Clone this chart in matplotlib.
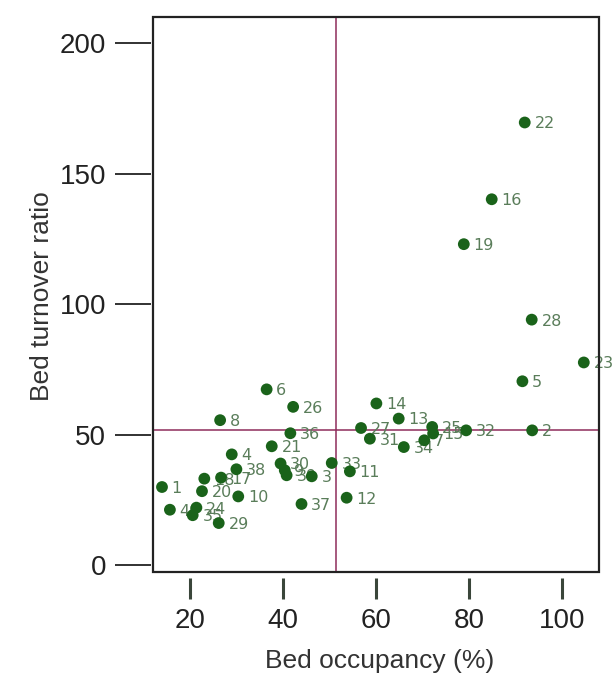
import matplotlib
matplotlib.use("Agg")
import matplotlib.pyplot as plt
from matplotlib.patches import Rectangle

# hospital id, bed occupancy (%), bed turnover ratio
ids = [1, 2, 3, 4, 5, 6, 7, 8, 9, 10,
       11, 12, 13, 14, 15, 16, 17, 18, 19, 20,
       21, 22, 23, 24, 25, 26, 27, 28, 29, 30,
       31, 32, 33, 34, 35, 36, 37, 38, 39, 40]
occupancy = [14.0, 93.6, 46.2, 29.0, 91.5, 36.5, 70.4, 26.5, 40.4, 30.4,
             54.4, 53.7, 64.9, 60.1, 72.3, 84.9, 26.7, 23.1, 78.9, 22.6,
             37.6, 92.0, 104.7, 21.4, 72.1, 42.2, 56.8, 93.5, 26.2, 39.5,
             58.7, 79.4, 50.5, 66.0, 20.6, 41.6, 44.0, 30.0, 40.8, 15.7]
turnover = [30.0, 51.7, 34.1, 42.5, 70.5, 67.4, 47.9, 55.6, 36.4, 26.4,
            36.0, 25.9, 56.2, 62.0, 50.5, 140.2, 33.6, 33.2, 123.0, 28.4,
            45.6, 169.6, 77.7, 22.1, 53.0, 60.7, 52.6, 94.1, 16.2, 39.0,
            48.5, 51.7, 39.2, 45.3, 19.2, 50.6, 23.5, 36.8, 34.5, 21.3]

# reference lines (means)
mean_occupancy = 51.5
mean_turnover = 51.7

x_ticks = [20, 40, 60, 80, 100]
y_ticks = [0, 50, 100, 150, 200]

dot_color = "#1a631a"
label_color = "#5a7d5a"
line_color = "#8e2c5b"

fig = plt.figure(figsize=(6.12, 6.8), dpi=100)
ax = fig.add_axes([0.2495, 0.159, 0.7295, 0.816])

ax.axvline(mean_occupancy, color=line_color, lw=1.1, zorder=1)
ax.axhline(mean_turnover, color=line_color, lw=1.1, zorder=1)

ax.scatter(occupancy, turnover, s=72, color=dot_color, edgecolors="none", zorder=3)
for i, xv, yv in zip(ids, occupancy, turnover):
    ax.annotate(str(i), (xv, yv), xytext=(7, -1), textcoords="offset points",
                va="center", ha="left", fontsize=11.5, color=label_color,
                family=["DejaVu Sans"], zorder=2)

ax.set_xlim(12, 108)
ax.set_ylim(-2.5, 210)
ax.set_xticks(x_ticks)
ax.set_yticks(y_ticks)

# detached ticks: hide spines, offset them, draw the box separately
for side in ["top", "right", "bottom", "left"]:
    ax.spines[side].set_visible(False)
ax.spines["bottom"].set_position(("outward", 4.3))
ax.spines["left"].set_position(("outward", 1.4))
ax.add_patch(Rectangle((0, 0), 1, 1, transform=ax.transAxes, fill=False,
                       lw=1.6, edgecolor="#222222", clip_on=False, zorder=4))

tick_font = ["Liberation Sans", "DejaVu Sans"]
ax.tick_params(axis="y", length=26, width=1.3, pad=6, colors="#222222")
ax.tick_params(axis="x", length=15, width=2.2, pad=7, colors="#3a463a")
for lab in ax.get_xticklabels() + ax.get_yticklabels():
    lab.set_family(tick_font)
    lab.set_fontsize(20)
    lab.set_color("#222222")

ax.set_xlabel("Bed occupancy (%)", fontsize=19, color="#333333",
              family=["Liberation Sans", "DejaVu Sans"])
ax.set_ylabel("Bed turnover ratio", fontsize=19, color="#333333",
              family=["Liberation Sans", "DejaVu Sans"])
ax.xaxis.set_label_coords(0.508, -0.139)
ax.yaxis.set_label_coords(-0.221, 0.497)

fig.savefig("out.png", dpi=100)
